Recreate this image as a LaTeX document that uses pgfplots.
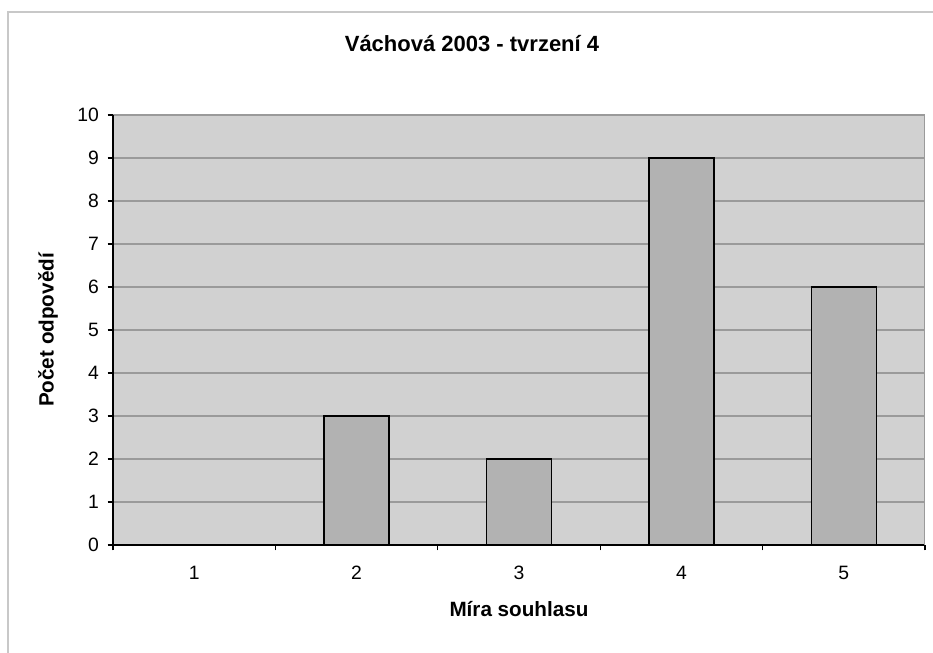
\documentclass[border=0pt]{standalone}
\usepackage{fontspec}
\setmainfont{Liberation Sans}
\usepackage{pgfplots}
\pgfplotsset{compat=1.18}
\definecolor{plotbg}{HTML}{D1D1D1}
\definecolor{barfill}{HTML}{B2B2B2}
\definecolor{gridc}{HTML}{9A9A9A}
\definecolor{framec}{HTML}{C8C8C8}
\begin{document}
\begin{tikzpicture}
\useasboundingbox (0,0) rectangle (699.75pt,489.75pt);
\draw[framec, line width=0.8pt] (6pt,0pt) -- (6pt,480.75pt) -- (699.75pt,480.75pt);
\begin{axis}[
  at={(84.75pt,81pt)}, anchor=south west,
  scale only axis, width=609pt, height=322.5pt,
  xmin=0.5, xmax=5.5, ymin=0, ymax=10,
  axis x line*=bottom, axis y line*=left,
  axis line style={black, line width=0.8pt},
  axis background/.style={fill=plotbg},
  xtick={1,2,3,4,5},
  minor xtick={0.5,1.5,2.5,3.5,4.5,5.5},
  ytick={0,1,...,10},
  ymajorgrids, major grid style={gridc, line width=1pt},
  major x tick style={draw=none},
  minor x tick style={black, line width=0.8pt},
  minor tick length=4pt,
  major tick length=4pt,
  tick align=outside,
  y tick style={black, line width=0.8pt},
  tick label style={font=\fontsize{14.5}{17}\selectfont},
  xticklabel style={yshift=-8pt},
  yticklabel style={xshift=-3pt},
  /pgf/number format/assume math mode=true,
  ybar, bar width=0.4,
]
\addplot[fill=barfill, draw=black, line width=1.1pt] coordinates {(1,0) (2,3) (3,2) (4,9) (5,6)};
\draw[gridc, line width=0.8pt] (rel axis cs:1,0) -- (rel axis cs:1,1);
\end{axis}
\node[font=\fontsize{16.5}{19}\selectfont\bfseries, anchor=base] at (354pt,450.75pt) {Váchová 2003 - tvrzení 4};
\node[font=\fontsize{15.5}{18}\selectfont\bfseries, anchor=base] at (389.25pt,27pt) {Míra souhlasu};
\node[font=\fontsize{15.5}{18}\selectfont\bfseries, rotate=90] at (36pt,242.25pt) {Počet odpovědí};
\end{tikzpicture}
\end{document}
